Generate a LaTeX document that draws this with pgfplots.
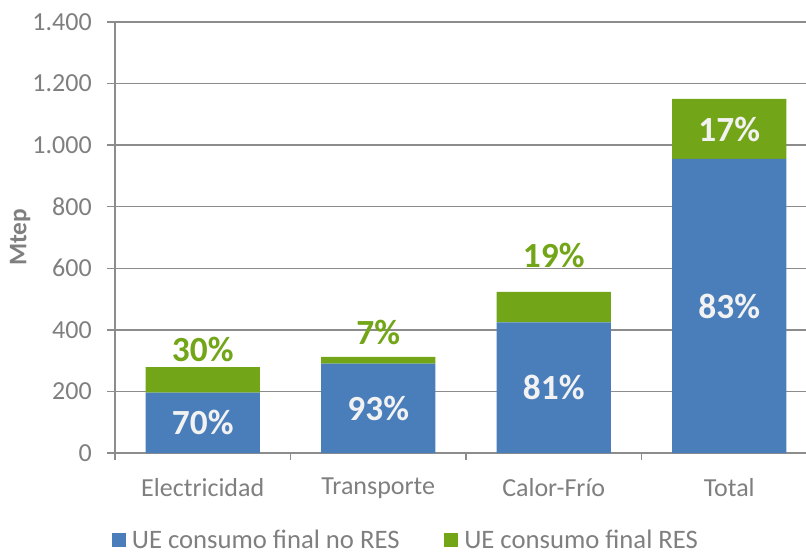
\documentclass[border=0pt]{standalone}
\usepackage{fontspec}
\setmainfont{Carlito}
\usepackage{pgfplots}
\pgfplotsset{compat=1.18}
\definecolor{blueA}{HTML}{4A7EBB}
\definecolor{greenA}{HTML}{72A517}
\definecolor{txt}{HTML}{7F7F7F}
\definecolor{gridc}{HTML}{8C8C8C}
\definecolor{lbl}{HTML}{F2F2F2}
\tikzset{lab/.style={font=\bfseries\fontsize{26.5}{30}\selectfont}}
\begin{document}
\begin{tikzpicture}
\begin{axis}[
  name=ax,
  scale only axis, width=526.5pt, height=323.25pt,
  ybar stacked, bar width=0.65,
  xmin=-0.5, xmax=3.5, ymin=0, ymax=1400,
  xtick={0,1,2,3},
  xticklabels={Electricidad,Transporte,Calor-Frío,Total},
  minor xtick={-0.5,0.5,1.5,2.5},
  ytick={0,200,400,600,800,1000,1200,1400},
  axis x line*=bottom, axis y line*=left,
  axis line style={gridc, line width=1.3pt, -},
  ymajorgrids, major grid style={gridc, line width=1.1pt},
  tick align=outside,
  major tick length=6pt, minor tick length=5.25pt,
  major x tick style={draw=none},
  minor x tick style={gridc, line width=1.1pt},
  ytick style={gridc, line width=1.1pt},
  ticklabel style={font=\fontsize{19.5}{23}\selectfont, text=txt},
  /pgf/number format/assume math mode=true,
  /pgf/number format/1000 sep={.},
  xticklabel style={inner sep=0pt, yshift=-12.75pt},
  yticklabel style={inner sep=0pt, xshift=-11.25pt},
  ylabel={\textbf{Mtep}},
  ylabel style={font=\fontsize{19}{22}\selectfont, text=txt, at={(axis description cs:-0.135,0.5)}, anchor=center},
  legend columns=2,
  legend style={draw=none, fill=none, at={(axis description cs:-0.0105,-0.2025)}, anchor=west,
    font=\fontsize{20}{23}\selectfont, text=txt,
    nodes={inner sep=0pt},
    /tikz/every odd column/.append style={column sep=4.5pt},
    /tikz/every even column/.append style={column sep=33.5pt}},
  legend image code/.code={\fill[#1] (0pt,-5.25pt) rectangle (10.5pt,5.25pt);},
]
\addplot[fill=blueA, draw=none] coordinates {(0,196) (1,290) (2,424) (3,955)};
\addlegendentry{UE consumo final no RES}
\addplot[fill=greenA, draw=none] coordinates {(0,83) (1,22) (2,99) (3,195)};
\addlegendentry{UE consumo final RES}
\coordinate (b0) at (axis cs:0,98);
\coordinate (b1) at (axis cs:1,145);
\coordinate (b2) at (axis cs:2,212);
\coordinate (b3) at (axis cs:3,477);
\coordinate (g3) at (axis cs:3,1052);
\coordinate (g0) at (axis cs:0,335);
\coordinate (g1) at (axis cs:1,393);
\coordinate (g2) at (axis cs:2,642);
\end{axis}
\node[lab, text=lbl] at (b0) {70\%};
\node[lab, text=lbl] at (b1) {93\%};
\node[lab, text=lbl] at (b2) {81\%};
\node[lab, text=lbl] at (b3) {83\%};
\node[lab, text=lbl] at (g3) {17\%};
\node[lab, text=greenA] at (g0) {30\%};
\node[lab, text=greenA] at (g1) {7\%};
\node[lab, text=greenA] at (g2) {19\%};
\pgfresetboundingbox
\path ([shift={(-86.25pt,-75.75pt)}]ax.south west) rectangle ([shift={(518.25pt,339.75pt)}]ax.south west);
\end{tikzpicture}
\end{document}
